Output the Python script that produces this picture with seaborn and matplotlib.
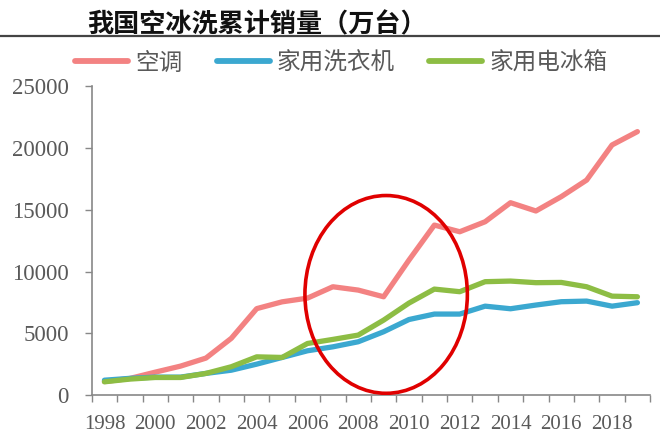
import matplotlib
matplotlib.use("Agg")
import matplotlib.pyplot as plt
from matplotlib.patches import Ellipse
from matplotlib.lines import Line2D
import numpy as np
import pandas as pd
import seaborn as sns

years = list(range(1998, 2020))
ac = [1100, 1350, 1860, 2350, 3000, 4600, 7000, 7550, 7850, 8770, 8500, 7960,
      10930, 13760, 13220, 14030, 15570, 14900, 16060, 17400, 20240, 21320]
washer = [1210, 1360, 1460, 1460, 1760, 2020, 2510, 3050, 3590, 3910, 4320, 5130,
          6120, 6560, 6560, 7200, 6990, 7290, 7560, 7610, 7200, 7480]
fridge = [1080, 1300, 1430, 1430, 1760, 2300, 3100, 3050, 4180, 4510, 4860, 6070,
          7450, 8580, 8370, 9180, 9230, 9100, 9120, 8770, 8010, 7960]
series_names = ["空调", "家用洗衣机", "家用电冰箱"]
colors = ["#F38282", "#3BA8D0", "#8DBD44"]
title = "我国空冰洗累计销量（万台）"
y_ticks = [0, 5000, 10000, 15000, 20000, 25000]
x_label_years = list(range(1998, 2020, 2))

df = pd.concat([
    pd.DataFrame({"year": years, "value": vals, "series": name})
    for name, vals in zip(series_names, [ac, washer, fridge])
])

sns.set_style("white")
plt.rcParams['font.family'] = ['Noto Sans CJK SC', 'DejaVu Sans']

fig = plt.figure(figsize=(6.6, 4.44), dpi=100)
ax = fig.add_axes([0.139, 0.110, 0.846, 0.696])

sns.lineplot(data=df, x="year", y="value", hue="series", hue_order=series_names,
             palette=colors, linewidth=3.8, ax=ax, legend=False, sort=False)
for ln in ax.lines:
    ln.set_solid_capstyle("round")
    ln.set_solid_joinstyle("round")

ax.set_xlim(1997.5, 2019.5)
ax.set_ylim(0, 25000)
ax.set_xlabel("")
ax.set_ylabel("")

# x axis: ticks at category boundaries, labels at category centres
ax.set_xticks(np.arange(1997.5, 2020.0, 1.0))
ax.set_xticklabels([])
ax.set_xticks(x_label_years, minor=True)
ax.set_xticklabels([str(y) for y in x_label_years], minor=True,
                   fontfamily="Liberation Serif", fontsize=15, color="#595959")
ax.tick_params(axis="x", which="major", direction="out", length=5, width=1,
               color="#888888", bottom=True)
ax.tick_params(axis="x", which="minor", length=0, pad=14.5, bottom=True)

ax.set_yticks(y_ticks)
ax.set_yticklabels([str(v) for v in y_ticks], fontfamily="Liberation Serif",
                   fontsize=16.5, color="#595959")
ax.tick_params(axis="y", direction="out", length=5, width=1, color="#888888",
               left=True, pad=11.5)

for side in ["top", "right"]:
    ax.spines[side].set_visible(False)
for side in ["left", "bottom"]:
    ax.spines[side].set_color("#888888")
    ax.spines[side].set_linewidth(1.2)

# red annotation ellipse
ell = Ellipse((2009.1, 8150), width=6.4, height=16000, fill=False,
              edgecolor="#E00000", linewidth=2.6, zorder=5)
ax.add_patch(ell)

# title and rule
fig.text(0.132, 0.944, title, fontsize=18.8, fontweight="bold",
         color="#111111", ha="left", va="center")
fig.add_artist(Line2D([0, 1], [0.918, 0.918], transform=fig.transFigure,
                      color="#444444", linewidth=1.6))

handles = [Line2D([0], [0], color=c, linewidth=4.2, solid_capstyle="round")
           for c in colors]
leg = fig.legend(handles, series_names, loc="center", bbox_to_anchor=(0.517, 0.858),
                 ncol=3, frameon=False, fontsize=17, handlelength=2.25,
                 handletextpad=0.3, columnspacing=1.45,
                 prop={"size": 17, "weight": "light"})
for t in leg.get_texts():
    t.set_color("#595959")

fig.savefig("out.png", dpi=100)
